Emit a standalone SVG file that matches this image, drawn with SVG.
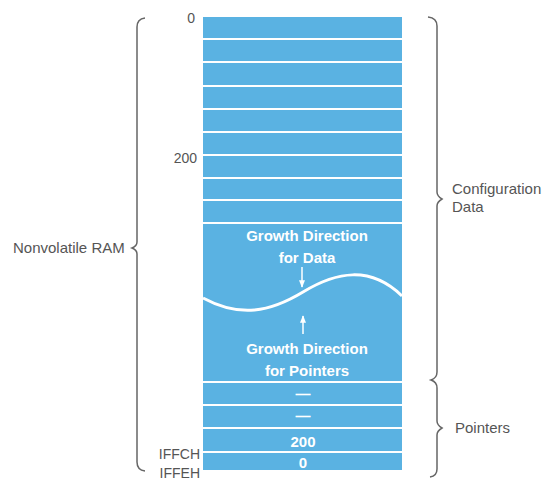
<svg xmlns="http://www.w3.org/2000/svg" width="547" height="482" viewBox="0 0 547 482">
<defs>
<style>
.lbl{font-family:"Liberation Sans",Arial,sans-serif;fill:#555;font-size:15px}
.addr{font-family:"Liberation Sans",Arial,sans-serif;fill:#555;font-size:14px;text-anchor:end}
.wt{font-family:"Liberation Sans",Arial,sans-serif;fill:#fff;font-size:15px;font-weight:bold;text-anchor:middle}
.wl{stroke:#fff;stroke-width:2}
.brace{fill:none;stroke:#666;stroke-width:1.5}
</style>
<marker id="ah" viewBox="0 0 10 10" refX="9" refY="5" markerWidth="5" markerHeight="5" orient="auto">
<path d="M0,1 L10,5 L0,9 Z" fill="#fff"/>
</marker>
</defs>
<rect width="547" height="482" fill="#fff"/>
<g id="ram">
<rect x="203" y="17" width="199" height="453" fill="#5ab2e2"/>
<g class="wl">
<line x1="203" y1="39" x2="402" y2="39"/>
<line x1="203" y1="62" x2="402" y2="62"/>
<line x1="203" y1="86" x2="402" y2="86"/>
<line x1="203" y1="109" x2="402" y2="109"/>
<line x1="203" y1="132" x2="402" y2="132"/>
<line x1="203" y1="155" x2="402" y2="155"/>
<line x1="203" y1="178" x2="402" y2="178"/>
<line x1="203" y1="200" x2="402" y2="200"/>
<line x1="203" y1="223" x2="402" y2="223"/>
<line x1="203" y1="382" x2="402" y2="382"/>
<line x1="203" y1="405" x2="402" y2="405"/>
<line x1="203" y1="428" x2="402" y2="428"/>
<line x1="203" y1="452" x2="402" y2="452"/>
</g>
<path d="M203,298 C240,318 270,312 303,292 S370,265 402,296" fill="none" stroke="#fff" stroke-width="3"/>
<text class="wt" x="307" y="241">Growth Direction</text>
<text class="wt" x="307" y="263">for Data</text>
<text class="wt" x="307" y="354">Growth Direction</text>
<text class="wt" x="307" y="376">for Pointers</text>
<text class="wt" x="303" y="399" font-size="11">—</text>
<text class="wt" x="303" y="421" font-size="11">—</text>
<text class="wt" x="303" y="447" font-size="14">200</text>
<text class="wt" x="303" y="468" font-size="14">0</text>
</g>
<g id="connectors">
<line x1="302" y1="267" x2="302" y2="287" stroke="#fff" stroke-width="1.5" marker-end="url(#ah)"/>
<line x1="303" y1="334" x2="303" y2="316" stroke="#fff" stroke-width="1.5" marker-end="url(#ah)"/>
</g>
<g id="addresses">
<text class="addr" x="195" y="23">0</text>
<text class="addr" x="197" y="163">200</text>
<text class="addr" x="200" y="459" font-size="13">IFFCH</text>
<text class="addr" x="200" y="478" font-size="13">IFFEH</text>
</g>
<g id="nvram-brace">
<path class="brace" d="M145,18 Q137,19 137,27 L137,242 Q137,246 132,248 Q137,250 137,254 L137,462 Q137,470 145,471"/>
<text class="lbl" x="13" y="253">Nonvolatile RAM</text>
</g>
<g id="config-brace">
<path class="brace" d="M428,17 Q437,18 437,26 L437,192 Q437,196 442,199 Q437,202 437,206 L437,372 Q437,378 431,380 Q437,382 437,388 L437,421 Q437,425 442,428 Q437,431 437,435 L437,469 Q437,476 430,477"/>
<text class="lbl" x="452" y="194">Configuration</text>
<text class="lbl" x="452" y="212">Data</text>
</g>
<g id="pointers-label">
<text class="lbl" x="455" y="433">Pointers</text>
</g>
</svg>
